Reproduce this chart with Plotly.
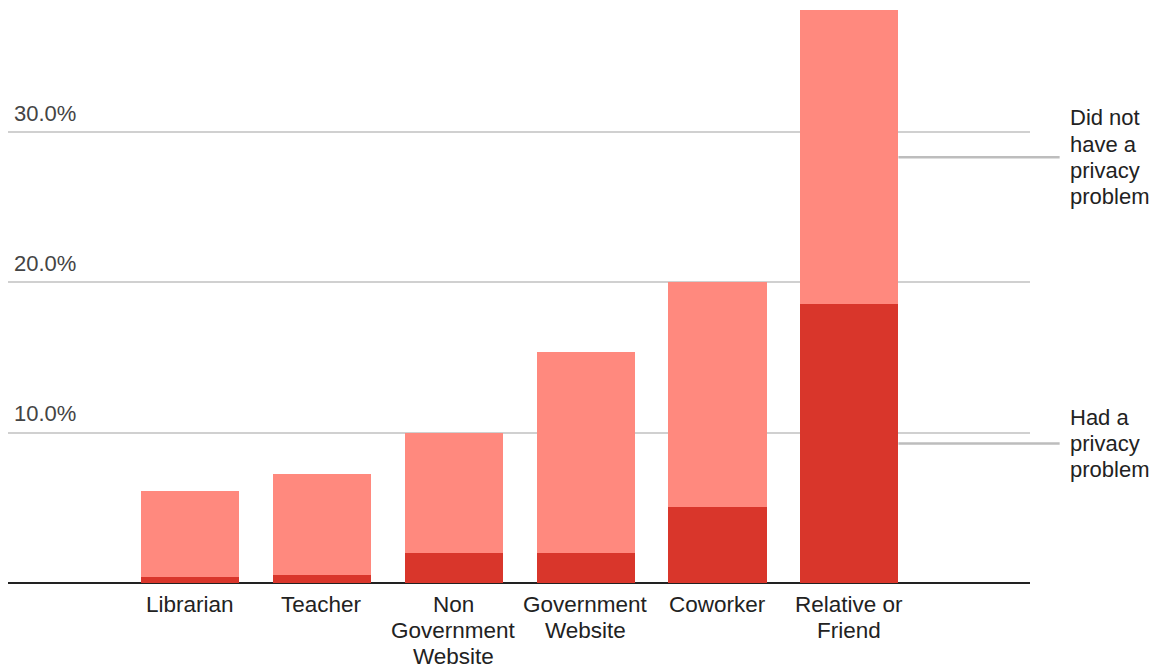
import plotly.graph_objects as go

categories = ["Librarian", "Teacher", "Non<br>Government<br>Website", "Government<br>Website", "Coworker", "Relative or<br>Friend"]
had_problem = [0.4, 0.53, 2.0, 2.0, 5.05, 18.55]
totals = [6.1, 7.25, 10.0, 15.4, 20.0, 38.1]
no_problem = [round(t - h, 2) for t, h in zip(totals, had_problem)]
series_names = ["Had a<br>privacy<br>problem", "Did not<br>have a<br>privacy<br>problem"]
y_ticks = [10, 20, 30]
y_tick_labels = ["10.0%", "20.0%", "30.0%"]

DARK = "#d9362b"
LIGHT = "#ff897e"
FONT = "Arial, Liberation Sans, Arimo, sans-serif"
LINE_H = 26.2

xs = list(range(len(categories)))
x_range = [-1.38, 6.37]
bargap = 0.256
bar_w = 1 - bargap

fig = go.Figure()
fig.add_trace(go.Bar(x=xs, y=had_problem, marker=dict(color=DARK, line=dict(width=0)), name="Had a privacy problem"))
fig.add_trace(go.Bar(x=xs, y=no_problem, marker=dict(color=LIGHT, line=dict(width=0)), name="Did not have a privacy problem"))

fig.update_layout(
    width=1151, height=668,
    margin=dict(l=8, r=121, t=0, b=85),
    barmode="stack", bargap=bargap,
    plot_bgcolor="white", paper_bgcolor="white",
    showlegend=False,
    font=dict(family=FONT, size=22, color="#222"),
    xaxis=dict(range=x_range, tickvals=xs, showticklabels=False, showgrid=False,
               zeroline=False, showline=False, ticks=""),
    yaxis=dict(range=[0, 38.79], tickvals=y_ticks, showticklabels=False, showgrid=True,
               gridcolor="#d0d0d0", gridwidth=1.5, zeroline=True, zerolinecolor="#222",
               zerolinewidth=2, showline=False),
)

# category labels, one annotation per line for tight line spacing
for xi, lab in zip(xs, categories):
    for li, part in enumerate(lab.split("<br>")):
        fig.add_annotation(x=xi, xref="x", y=0, yref="y", text=part, showarrow=False,
                           xanchor="center", yanchor="middle", yshift=-(21.5 + LINE_H * li),
                           font=dict(size=22.5, color="#222", family=FONT))

for v, lab in zip(y_ticks, y_tick_labels):
    fig.add_annotation(x=0.004, xref="paper", y=v, yref="y", text=lab, showarrow=False,
                       xanchor="left", yanchor="middle", yshift=19,
                       font=dict(size=22, color="#444", family=FONT))

# legend labels with leader lines from last bar
last = len(categories) - 1
def to_paper(xv):
    return (xv - x_range[0]) / (x_range[1] - x_range[0])

x_bar_right = to_paper(last + bar_w / 2)
mids = [had_problem[last] / 2, had_problem[last] + no_problem[last] / 2]
for mid, name in zip(mids, series_names):
    fig.add_shape(type="line", xref="paper", yref="y", x0=x_bar_right, x1=1.029, y0=mid, y1=mid,
                  line=dict(color="#bdbdbd", width=2.5))
    parts = name.split("<br>")
    n = len(parts)
    for li, part in enumerate(parts):
        fig.add_annotation(x=1.037, xref="paper", y=mid, yref="y", text=part, showarrow=False,
                           xanchor="left", yanchor="middle", align="left",
                           yshift=((n - 1) / 2 - li) * LINE_H,
                           font=dict(size=22, color="#222", family=FONT))

fig.write_html("out.html")
